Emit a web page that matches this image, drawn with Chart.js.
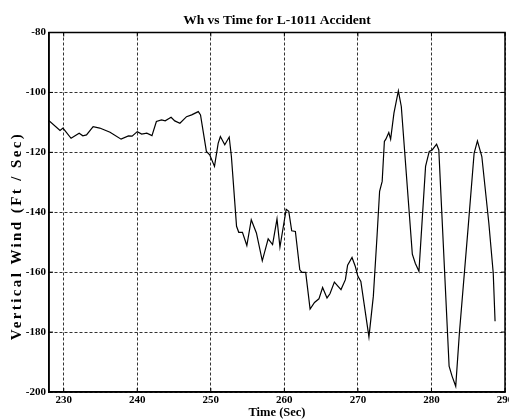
<!DOCTYPE html>
<html>
<head>
<meta charset="utf-8">
<script src="https://cdn.jsdelivr.net/npm/chart.js@4.4.0/dist/chart.umd.min.js"></script>
<style>
  html, body { margin: 0; padding: 0; background: #fff; overflow: hidden; }
  #wrap { width: 509px; height: 420px; }
</style>
</head>
<body>
<div id="wrap"><canvas id="whChart"></canvas></div>
<script>
// Wh vs time
const times = [
  228.0, 229.5, 229.9, 231.0, 232.1, 232.6, 233.1, 234.0, 234.9, 236.3,
  237.8, 238.8, 239.3, 240.0, 240.6, 241.3, 242.0, 242.6, 243.3, 243.8,
  244.6, 245.1, 245.8, 246.7, 247.4, 248.3, 248.6, 249.4, 249.85, 250.5,
  251.0, 251.3, 251.9, 252.5, 252.8, 253.5, 253.8, 254.3, 254.9, 255.5,
  256.2, 257.0, 257.8, 258.4, 259.0, 259.4, 260.25, 260.6, 261.0, 261.5,
  262.1, 262.4, 262.9, 263.5, 264.1, 264.7, 265.2, 265.8, 266.2, 266.8,
  267.7, 268.3, 268.6, 269.2, 269.65, 270.0, 270.4, 271.5, 272.1, 272.6,
  272.95, 273.3, 273.6, 273.8, 274.2, 274.45, 274.9, 275.5, 275.9, 277.4,
  277.8, 278.3, 279.2, 279.7, 280.1, 280.7, 281.0, 282.4, 282.8, 283.3,
  283.8, 285.0, 285.8, 286.25, 286.85, 287.8, 288.4, 288.65
];
const wind = [
  -109.4, -112.7, -111.9, -115.3, -113.6, -114.5, -114.2, -111.4, -111.9, -113.3,
  -115.6, -114.5, -114.6, -113.1, -113.9, -113.6, -114.4, -109.7, -109.2, -109.5,
  -108.3, -109.5, -110.3, -108.1, -107.5, -106.4, -107.5, -119.7, -120.8, -124.7,
  -117.0, -114.7, -117.5, -114.9, -121.4, -144.7, -146.7, -146.7, -151.1, -142.5,
  -146.9, -156.2, -148.9, -150.8, -142.2, -151.6, -139.0, -139.7, -146.2, -146.4,
  -159.2, -160.1, -160.1, -172.3, -170.1, -168.9, -165.1, -168.6, -167.2, -163.3,
  -165.8, -162.5, -157.7, -155.1, -158.1, -161.4, -163.1, -181.6, -168.0, -148.0,
  -133.0, -129.7, -116.4, -115.6, -113.4, -115.6, -106.9, -99.5, -104.7, -154.0,
  -157.0, -159.7, -124.7, -119.7, -119.2, -117.3, -119.2, -191.4, -194.7, -198.1,
  -180.3, -144.7, -120.3, -116.2, -121.4, -143.6, -160.3, -176.4
];
const xTicks = [230, 240, 250, 260, 270, 280, 290];
const yTicks = [-200, -180, -160, -140, -120, -100, -80];

const serif = '"Liberation Serif", "Times New Roman", serif';
const points = times.map((t, i) => ({ x: t, y: wind[i] }));

// frame round the plot, with small inward ticks like the original
const framePlugin = {
  id: "frame",
  afterDatasetsDraw(chart) {
    const { ctx, chartArea: a, scales } = chart;
    ctx.save();
    ctx.strokeStyle = "#000";
    ctx.lineWidth = 1.5;
    ctx.strokeRect(a.left, a.top, a.right - a.left, a.bottom - a.top);
    ctx.lineWidth = 1;
    ctx.beginPath();
    xTicks.forEach(v => {
      const px = scales.x.getPixelForValue(v);
      if (px > a.right) return;
      ctx.moveTo(px, a.bottom); ctx.lineTo(px, a.bottom - 4);
      ctx.moveTo(px, a.top); ctx.lineTo(px, a.top + 4);
    });
    yTicks.forEach(v => {
      const py = scales.y.getPixelForValue(v);
      ctx.moveTo(a.left, py); ctx.lineTo(a.left + 4, py);
      ctx.moveTo(a.right, py); ctx.lineTo(a.right - 4, py);
    });
    ctx.stroke();
    ctx.restore();
  }
};

// y title drawn by hand: it sits lower than centre and is letter-spaced
const yTitlePlugin = {
  id: "yTitle",
  afterDraw(chart) {
    const ctx = chart.ctx;
    ctx.save();
    ctx.translate(17, 236);
    ctx.rotate(-Math.PI / 2);
    ctx.font = "bold 15px " + serif;
    ctx.letterSpacing = "2.4px";
    ctx.fillStyle = "#000";
    ctx.textAlign = "center";
    ctx.textBaseline = "middle";
    ctx.fillText("Vertical Wind (Ft / Sec)", 0, 0);
    ctx.restore();
  }
};

new Chart(document.getElementById("whChart"), {
  type: "line",
  data: {
    datasets: [{
      data: points,
      borderColor: "#000",
      borderWidth: 1.2,
      pointRadius: 0,
      tension: 0,
      fill: false
    }]
  },
  options: {
    responsive: true,
    maintainAspectRatio: false,
    animation: false,
    layout: { padding: { left: 0, right: 4, top: 0, bottom: 0 } },
    plugins: {
      legend: { display: false },
      tooltip: { enabled: false },
      title: {
        display: true,
        fullSize: false,
        text: "Wh vs Time for L-1011 Accident",
        color: "#000",
        font: { family: serif, size: 13.5, weight: "bold" },
        padding: { top: 12, bottom: 4.3 }
      }
    },
    scales: {
      x: {
        type: "linear",
        min: 228,
        max: 290,
        afterBuildTicks: s => { s.ticks = xTicks.map(v => ({ value: v })); },
        afterFit: s => { s.paddingLeft = 0; s.paddingRight = 0; s.height = 28; },
        ticks: {
          color: "#000",
          font: { family: serif, size: 11, weight: "bold" },
          padding: 2,
          maxRotation: 0,
          autoSkip: false
        },
        grid: { color: "#333", lineWidth: 1, drawTicks: false },
        border: { display: true, color: "#000", width: 1.5, dash: [3, 2] },
        title: {
          display: true,
          text: "Time (Sec)",
          color: "#000",
          font: { family: serif, size: 12.5, weight: "bold" },
          padding: { top: 0, bottom: 0 }
        }
      },
      y: {
        min: -200,
        max: -80,
        afterBuildTicks: s => { s.ticks = yTicks.map(v => ({ value: v })); },
        afterFit: s => { s.width = 49; s.paddingTop = 0; s.paddingBottom = 0; },
        ticks: {
          color: "#000",
          font: { family: serif, size: 11, weight: "bold" },
          padding: 3
        },
        grid: { color: "#333", lineWidth: 1, drawTicks: false },
        border: { display: true, color: "#000", width: 1.5, dash: [3, 2] }
      }
    }
  },
  plugins: [framePlugin, yTitlePlugin]
});
</script>
</body>
</html>
